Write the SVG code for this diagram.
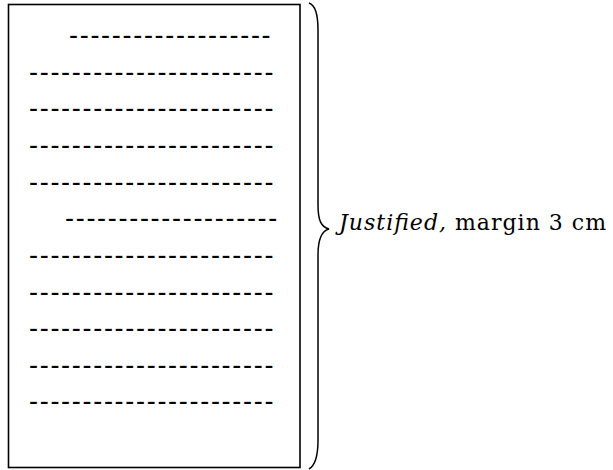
<svg xmlns="http://www.w3.org/2000/svg" width="613" height="470" viewBox="0 0 613 470">
<style>
.d{font-family:"Liberation Sans",Arial,sans-serif;font-size:27px;letter-spacing:1.71px;fill:#000}
.lbl{font-family:"DejaVu Serif","Liberation Serif",serif;font-size:22px;fill:#000}
</style>
<rect width="613" height="470" fill="#fff"/>
<g id="page">
<rect x="8.5" y="4.5" width="291.5" height="463" fill="none" stroke="#000" stroke-width="1.6"/>
<text class="d" x="69" y="43.9">-------------------</text>
<text class="d" x="29" y="80.6">-----------------------</text>
<text class="d" x="29" y="117.2">-----------------------</text>
<text class="d" x="29" y="153.9">-----------------------</text>
<text class="d" x="29" y="190.5">-----------------------</text>
<text class="d" x="65" y="227.2">--------------------</text>
<text class="d" x="29" y="263.8">-----------------------</text>
<text class="d" x="29" y="300.5">-----------------------</text>
<text class="d" x="29" y="337.1">-----------------------</text>
<text class="d" x="29" y="373.8">-----------------------</text>
<text class="d" x="29" y="410.4">-----------------------</text>
</g>
<g id="brace">
<path d="M309,3 C315,5 318,15 318,30 L318,205 C318,220 321,227 329,229 C321,231 318,240 318,255 L318,440 C318,455 316,465 309,469" fill="none" stroke="#000" stroke-width="1.5"/>
</g>
<g id="label">
<text class="lbl" x="339" y="230" textLength="267" lengthAdjust="spacing"><tspan font-style="italic">Justified,</tspan> margin 3 cm</text>
</g>
</svg>
